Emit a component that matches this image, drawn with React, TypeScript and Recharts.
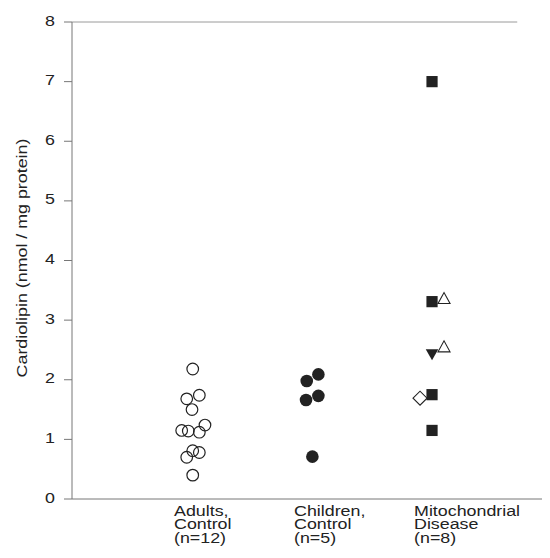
import React from 'react';
import { ScatterChart, Scatter, XAxis, YAxis, ReferenceLine } from 'recharts';

const categoryPositions = [1, 2, 3];
const categoryLabels = [
  ['Adults,', 'Control', '(n=12)'],
  ['Children,', 'Control', '(n=5)'],
  ['Mitochondrial', 'Disease', '(n=8)'],
];
const yTicks = [0, 1, 2, 3, 4, 5, 6, 7, 8];
const yAxisTitle = 'Cardiolipin (nmol / mg protein)';

const adultsValues = [2.18, 1.68, 1.74, 1.5, 1.15, 1.14, 1.24, 1.12, 0.81, 0.78, 0.7, 0.4];
const adultsJitter = [0.006, -0.044, 0.061, 0.0, -0.086, -0.031, 0.108, 0.061, 0.006, 0.061, -0.044, 0.006];

const childrenValues = [1.98, 2.09, 1.66, 1.73, 0.71];
const childrenJitter = [-0.044, 0.053, -0.05, 0.053, 0.003];

const mitoSquareValues = [7.0, 3.31, 1.75, 1.15];
const mitoSquareJitter = [0, 0, 0, 0];
const mitoDownTriValues = [2.42];
const mitoDownTriJitter = [0];
const mitoUpTriValues = [3.37, 2.56];
const mitoUpTriJitter = [0.1, 0.1];
const mitoDiamondValues = [1.69];
const mitoDiamondJitter = [-0.1];

const build = (pos: number, vals: number[], jit: number[]) =>
  vals.map((v, i) => ({ x: pos + jit[i], y: v }));

const adultsData = build(categoryPositions[0], adultsValues, adultsJitter);
const childrenData = build(categoryPositions[1], childrenValues, childrenJitter);
const mitoSquareData = build(categoryPositions[2], mitoSquareValues, mitoSquareJitter);
const mitoDownTriData = build(categoryPositions[2], mitoDownTriValues, mitoDownTriJitter);
const mitoUpTriData = build(categoryPositions[2], mitoUpTriValues, mitoUpTriJitter);
const mitoDiamondData = build(categoryPositions[2], mitoDiamondValues, mitoDiamondJitter);

const INK = '#222222';
const AXIS = '#777777';
const FONT = '"Liberation Sans", Arial, sans-serif';
const FS = 15;
const STRETCH = 1.19;

const OpenCircle = (p: any) => (
  <circle cx={p.cx} cy={p.cy} r={5.8} fill="none" stroke={INK} strokeWidth={1.2} />
);
const FilledCircle = (p: any) => <circle cx={p.cx} cy={p.cy} r={6.3} fill={INK} />;
const FilledSquare = (p: any) => (
  <rect x={p.cx - 5.6} y={p.cy - 5.6} width={11.2} height={11.2} fill={INK} />
);
const FilledDownTri = (p: any) => (
  <polygon
    points={`${p.cx - 6.3},${p.cy - 5.5} ${p.cx + 6.3},${p.cy - 5.5} ${p.cx},${p.cy + 5.5}`}
    fill={INK}
  />
);
const OpenUpTri = (p: any) => (
  <polygon
    points={`${p.cx - 6},${p.cy + 5.5} ${p.cx + 6},${p.cy + 5.5} ${p.cx},${p.cy - 5.5}`}
    fill="none"
    stroke={INK}
    strokeWidth={1.1}
  />
);
const OpenDiamond = (p: any) => (
  <polygon
    points={`${p.cx - 7},${p.cy} ${p.cx},${p.cy - 7} ${p.cx + 7},${p.cy} ${p.cx},${p.cy + 7}`}
    fill="none"
    stroke={INK}
    strokeWidth={1.1}
  />
);

const XTick = (props: any) => {
  const { x, y, payload } = props;
  const idx = categoryPositions.indexOf(payload.value);
  const lines = idx >= 0 ? categoryLabels[idx] : [];
  const lx = x - 18;
  const offsets = [17, 30.3, 43.6];
  return (
    <g>
      {lines.map((t, i) => (
        <text
          key={i}
          x={0}
          y={0}
          transform={`translate(${lx}, ${y + offsets[i]}) scale(${STRETCH}, 1)`}
          textAnchor="start"
          fontFamily={FONT}
          fontSize={FS}
          fill={INK}
        >
          {t}
        </text>
      ))}
    </g>
  );
};

const YTick = (props: any) => {
  const { x, y, payload } = props;
  return (
    <text
      x={0}
      y={0}
      transform={`translate(${x}, ${y + 3.6}) scale(${STRETCH}, 1)`}
      textAnchor="end"
      fontFamily={FONT}
      fontSize={FS}
      fill={INK}
    >
      {payload.value}
    </text>
  );
};

const YLabel = (props: any) => {
  const vb = props.viewBox || { x: 0, y: 0, width: 0, height: 0 };
  const lx = vb.x + 18.8;
  const ly = vb.y + vb.height / 2 - 2.5;
  return (
    <text
      x={0}
      y={0}
      transform={`translate(${lx}, ${ly}) rotate(-90) scale(${STRETCH}, 1)`}
      textAnchor="middle"
      fontFamily={FONT}
      fontSize={FS}
      fill={INK}
    >
      {yAxisTitle}
    </text>
  );
};

export default function App() {
  return (
    <ScatterChart width={542} height={542} margin={{ top: 14, right: 0, bottom: 0, left: 0 }}>
      <XAxis
        type="number"
        dataKey="x"
        domain={[0, 3.983]}
        allowDataOverflow
        ticks={categoryPositions}
        tickLine={false}
        tickSize={0}
        tickMargin={0}
        height={51}
        axisLine={{ stroke: AXIS, strokeWidth: 1 }}
        tick={<XTick />}
        interval={0}
      />
      <YAxis
        type="number"
        dataKey="y"
        domain={[0, 8]}
        allowDataOverflow
        ticks={yTicks}
        interval={0}
        width={64}
        tickSize={8}
        tickMargin={9}
        tickLine={{ stroke: AXIS, strokeWidth: 1 }}
        axisLine={{ stroke: AXIS, strokeWidth: 1 }}
        tick={<YTick />}
        label={<YLabel />}
      />
      <ReferenceLine
        segment={[{ x: 0, y: 8 }, { x: 3.71, y: 8 }]}
        stroke="#9a9a9a"
        strokeWidth={1}
        ifOverflow="visible"
      />
      <Scatter data={adultsData} shape={<OpenCircle />} isAnimationActive={false} />
      <Scatter data={childrenData} shape={<FilledCircle />} isAnimationActive={false} />
      <Scatter data={mitoDiamondData} shape={<OpenDiamond />} isAnimationActive={false} />
      <Scatter data={mitoUpTriData} shape={<OpenUpTri />} isAnimationActive={false} />
      <Scatter data={mitoSquareData} shape={<FilledSquare />} isAnimationActive={false} />
      <Scatter data={mitoDownTriData} shape={<FilledDownTri />} isAnimationActive={false} />
    </ScatterChart>
  );
}
